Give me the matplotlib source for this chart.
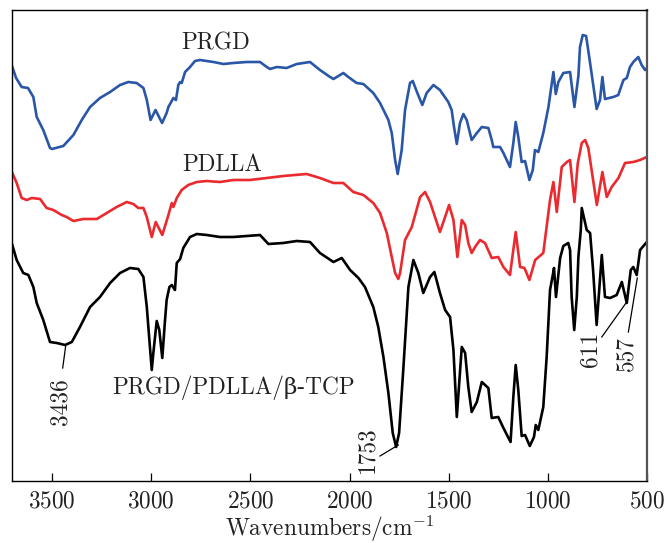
import matplotlib
matplotlib.use("Agg")
import matplotlib.pyplot as plt
import numpy as np

plt.rcParams['font.family'] = ['cmr10', 'DejaVu Serif']
plt.rcParams['mathtext.fontset'] = 'cm'
plt.rcParams['axes.formatter.use_mathtext'] = True

# Wavenumbers (cm^-1) and offset transmittance (a.u.)
prgd_wn = [3700, 3681, 3653, 3621, 3594, 3577, 3544, 3510, 3500, 3443, 3392, 3350, 3308, 3258, 3207,
           3157, 3115, 3073, 3039, 3022, 3003, 2978, 2945, 2922, 2913, 2888, 2875, 2863, 2854, 2846,
           2829, 2804, 2779, 2754, 2720, 2686, 2636, 2586, 2518, 2451, 2417, 2401, 2367, 2317, 2266,
           2199, 2149, 2098, 2081, 2031, 2006, 1964, 1930, 1880, 1846, 1804, 1787, 1770, 1757, 1737,
           1720, 1695, 1681, 1658, 1633, 1611, 1577, 1544, 1502, 1485, 1473, 1459, 1443, 1426, 1409,
           1384, 1358, 1333, 1300, 1283, 1275, 1241, 1224, 1191, 1174, 1162, 1149, 1132, 1115, 1093,
           1076, 1065, 1048, 1023, 997, 972, 960, 947, 922, 888, 866, 846, 838, 824, 807,
           787, 754, 737, 725, 712, 670, 645, 619, 602, 586, 569, 544, 527, 510, 500]
prgd_t = [414, 403, 394, 393, 384, 364, 351, 333, 332, 335, 346, 361, 374, 383, 389,
          396, 399, 398, 393, 381, 361, 371, 358, 368, 374, 383, 381, 396, 399, 398,
          409, 414, 420, 421, 420, 419, 417, 418, 419, 419, 414, 412, 414, 413, 417,
          419, 411, 404, 402, 408, 404, 398, 397, 388, 378, 361, 348, 321, 307, 331,
          371, 398, 400, 388, 376, 388, 396, 391, 379, 371, 354, 337, 358, 367, 361,
          341, 348, 354, 353, 341, 334, 334, 328, 314, 338, 359, 344, 319, 320, 301,
          311, 331, 329, 348, 374, 409, 387, 399, 408, 409, 374, 405, 434, 446, 445,
          418, 372, 381, 404, 382, 384, 386, 401, 403, 414, 419, 424, 416, 411, 413]

pdlla_wn = [3700, 3678, 3653, 3627, 3602, 3560, 3527, 3493, 3451, 3426, 3392, 3342, 3274, 3224, 3174,
            3123, 3090, 3065, 3039, 3022, 2997, 2977, 2944, 2916, 2896, 2888, 2871, 2846, 2813, 2770,
            2720, 2653, 2586, 2502, 2417, 2334, 2216, 2149, 2081, 2031, 1981, 1930, 1880, 1846, 1812,
            1787, 1770, 1754, 1745, 1720, 1686, 1644, 1619, 1594, 1569, 1544, 1518, 1498, 1476, 1456,
            1434, 1417, 1401, 1384, 1367, 1342, 1317, 1283, 1250, 1224, 1191, 1162, 1140, 1118, 1093,
            1064, 1023, 989, 972, 955, 930, 904, 888, 866, 849, 829, 812, 796, 753, 725,
            703, 678, 644, 611, 569, 535, 501]
pdlla_t = [308, 298, 283, 281, 283, 282, 273, 271, 266, 264, 260, 262, 262, 268, 274,
           279, 277, 273, 273, 264, 244, 259, 246, 264, 278, 274, 283, 291, 296, 299,
           300, 299, 301, 301, 303, 305, 307, 303, 298, 298, 289, 286, 278, 268, 248,
           224, 208, 202, 208, 241, 254, 284, 289, 279, 264, 249, 264, 276, 261, 224,
           261, 256, 238, 228, 234, 241, 238, 223, 224, 214, 206, 249, 214, 213, 201,
           221, 228, 281, 299, 269, 314, 319, 321, 279, 318, 338, 341, 333, 276, 309,
           284, 294, 303, 318, 319, 321, 324]

comp_wn = [3700, 3678, 3645, 3619, 3594, 3577, 3544, 3510, 3476, 3434, 3400, 3359, 3308, 3258, 3207,
           3157, 3107, 3065, 3039, 3022, 3009, 2997, 2989, 2972, 2959, 2944, 2930, 2922, 2908, 2896,
           2880, 2871, 2854, 2838, 2804, 2770, 2720, 2653, 2586, 2518, 2451, 2409, 2334, 2266, 2199,
           2149, 2081, 2039, 1997, 1955, 1922, 1880, 1855, 1829, 1804, 1782, 1765, 1750, 1729, 1703,
           1678, 1653, 1628, 1594, 1572, 1544, 1518, 1493, 1476, 1459, 1434, 1417, 1401, 1384, 1358,
           1333, 1300, 1283, 1250, 1224, 1188, 1174, 1162, 1149, 1132, 1115, 1091, 1070, 1061, 1048,
           1023, 1006, 989, 975, 969, 959, 938, 922, 897, 888, 880, 867, 854, 846, 834,
           829, 804, 787, 772, 754, 728, 712, 686, 653, 627, 602, 582, 569, 552, 535, 501]
comp_t = [236, 221, 208, 206, 194, 178, 161, 139, 138, 136, 139, 154, 174, 184, 198,
          208, 213, 212, 204, 174, 141, 111, 128, 160, 151, 123, 161, 181, 194, 196,
          191, 218, 222, 233, 244, 247, 246, 244, 244, 245, 246, 237, 238, 240, 239,
          228, 219, 223, 211, 203, 194, 174, 154, 124, 88, 48, 34, 48, 111, 194,
          221, 208, 188, 204, 209, 188, 171, 164, 131, 64, 134, 128, 94, 69, 79,
          99, 93, 63, 64, 53, 39, 84, 116, 91, 45, 46, 35, 44, 56, 51,
          74, 124, 191, 206, 213, 184, 223, 235, 238, 231, 184, 151, 184, 224, 251,
          273, 251, 248, 211, 156, 226, 184, 183, 186, 199, 178, 211, 214, 206, 231, 239]

series_names = ["PRGD", "PDLLA", "PRGD/PDLLA/β-TCP"]
series_colors = ["#2a56a8", "#ea2a2e", "#000000"]

# peak annotations: label, peak point (wn, t), line end (wn, t), text position
peak_labels = ["3436", "1753", "611", "557"]
peak_xy = [(3431, 135), (1754, 36), (606, 178), (549, 203)]
peak_line_end = [(3446, 113), (1846, 25), (728, 144), (594, 149)]
peak_text_xy = [(3459, 79), (1912, 31), (787, 132), (606, 127)]

fig = plt.figure(figsize=(6.66, 5.43), dpi=100)
ax = fig.add_axes([0.0185, 0.1142, 0.953, 0.8683])

for wn, t, c in zip([prgd_wn, pdlla_wn, comp_wn], [prgd_t, pdlla_t, comp_t], series_colors):
    ax.plot(wn, t, color=c, lw=1.9, solid_joinstyle='round')

fs = 16.8
tc = '#222222'
ax.text(2673, 438, series_names[0], fontsize=fs, color=tc, ha='center', va='center')
ax.text(2643, 316, series_names[1], fontsize=fs, color=tc, ha='center', va='center')
ax.text(2582, 93, series_names[2], fontsize=fs, color=tc, ha='center', va='center')

for lab, p, e, tp in zip(peak_labels, peak_xy, peak_line_end, peak_text_xy):
    ax.plot([p[0], e[0]], [p[1], e[1]], color='black', lw=0.9)
    ax.text(tp[0], tp[1], lab, fontsize=fs, color=tc, rotation=90, ha='center', va='center')

ax.set_xlim(3700, 500)
ax.set_ylim(0, 471.5)
ax.set_xticks([3500, 3000, 2500, 2000, 1500, 1000, 500])
ax.set_yticks([])
ax.tick_params(axis='x', direction='in', length=5.5, width=0.9, labelsize=fs, pad=7, colors='black', labelcolor=tc)
ax.set_xlabel(r'Wavenumbers/cm$^{-1}$', fontsize=fs, color=tc, labelpad=0)
for s in ax.spines.values():
    s.set_linewidth(1.0)
ax.spines['right'].set_color('#555555')
ax.spines['right'].set_linewidth(1.6)

fig.savefig("out.png", dpi=100)
